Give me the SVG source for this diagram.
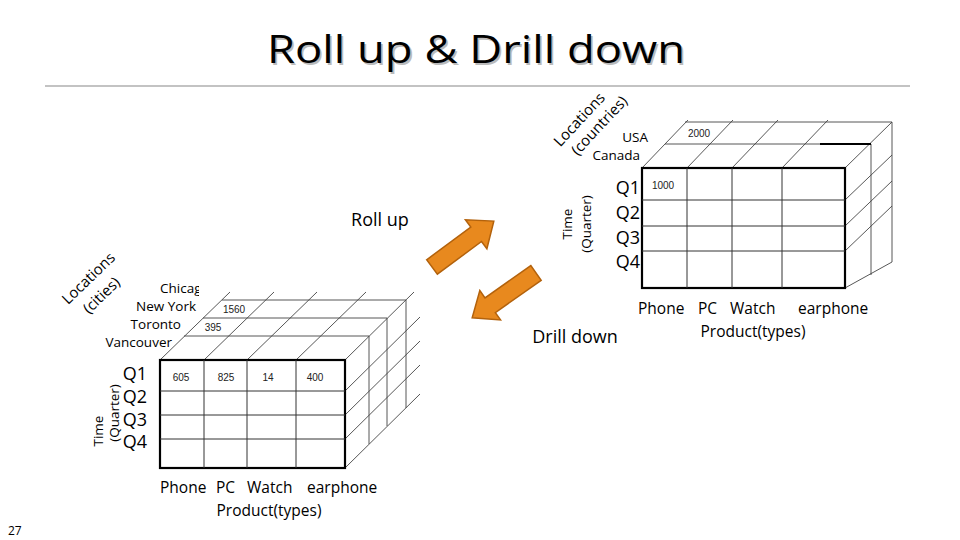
<svg xmlns="http://www.w3.org/2000/svg" width="960" height="540" viewBox="0 0 960 540">
<defs>
<style>
.t{font-family:"Open Sans","Noto Sans","Liberation Sans",sans-serif;fill:#000}
.lbl{font-size:13.5px}
.loc{font-size:15px}
.q{font-size:18px}
.num{font-size:10px;font-family:"Liberation Sans",Arial,sans-serif;fill:#222}
.prod{font-size:15.5px}
.front{fill:#fff;stroke:#000;stroke-width:2.2}
.grid{stroke:#333;stroke-width:1;fill:none}
.thin{stroke:#444;stroke-width:0.9;fill:none}
.arrow{fill:#E8891E;stroke:#B3620C;stroke-width:1.5;stroke-linejoin:miter}
</style>
<clipPath id="chi"><rect x="100" y="270" width="99" height="30"/></clipPath>
</defs>
<rect width="960" height="540" fill="#fff"/>

<g id="title">
<text x="476" y="63" text-anchor="middle" class="t" style="font-size:39px;fill:#bbb" transform="translate(1.8,1.8)" textLength="418" lengthAdjust="spacingAndGlyphs">Roll up &amp; Drill down</text>
<text x="476" y="63" text-anchor="middle" class="t" style="font-size:39px" textLength="418" lengthAdjust="spacingAndGlyphs">Roll up &amp; Drill down</text>
<line x1="45" y1="86" x2="910" y2="86" stroke="#888" stroke-width="1.2"/>
</g>

<g id="cube-cities">
<g class="thin">
<line x1="184" y1="336" x2="369" y2="336"/>
<line x1="203" y1="318" x2="387" y2="318"/>
<line x1="222" y1="300" x2="406" y2="300"/>
<line x1="160" y1="360" x2="230" y2="292"/>
<line x1="204" y1="360" x2="274" y2="292"/>
<line x1="247" y1="360" x2="317" y2="292"/>
<line x1="296" y1="360" x2="366" y2="292"/>
<line x1="345" y1="360" x2="414" y2="292"/>
<line x1="369" y1="336" x2="369" y2="444"/>
<line x1="387" y1="318" x2="387" y2="426"/>
<line x1="406" y1="300" x2="406" y2="408"/>
<line x1="345" y1="391" x2="420" y2="317"/>
<line x1="345" y1="415" x2="420" y2="341"/>
<line x1="345" y1="439" x2="420" y2="365"/>
<line x1="345" y1="468" x2="420" y2="394"/>
</g>
<rect class="front" x="160" y="360" width="185" height="108"/>
<g class="grid">
<line x1="204" y1="360" x2="204" y2="468"/>
<line x1="247" y1="360" x2="247" y2="468"/>
<line x1="296" y1="360" x2="296" y2="468"/>
<line x1="160" y1="391" x2="345" y2="391"/>
<line x1="160" y1="415" x2="345" y2="415"/>
<line x1="160" y1="439" x2="345" y2="439"/>
</g>
<text class="num" x="181" y="381" text-anchor="middle">605</text>
<text class="num" x="226" y="381" text-anchor="middle">825</text>
<text class="num" x="268" y="381" text-anchor="middle">14</text>
<text class="num" x="315" y="381" text-anchor="middle">400</text>
<text class="num" x="234" y="313" text-anchor="middle">1560</text>
<text class="num" x="213" y="331" text-anchor="middle">395</text>
<text class="t lbl" x="160" y="293" clip-path="url(#chi)">Chicag</text>
<text class="t lbl" x="196" y="311" text-anchor="end">New York</text>
<text class="t lbl" x="181" y="329" text-anchor="end">Toronto</text>
<text class="t lbl" x="172" y="347" text-anchor="end">Vancouver</text>
<text class="t loc" text-anchor="middle" transform="translate(92,282) rotate(-44)">Locations</text>
<text class="t loc" text-anchor="middle" transform="translate(105,299) rotate(-44)">(cities)</text>
<text class="t q" x="147" y="380" text-anchor="end">Q1</text>
<text class="t q" x="147" y="403" text-anchor="end">Q2</text>
<text class="t q" x="147" y="426" text-anchor="end">Q3</text>
<text class="t q" x="147" y="448" text-anchor="end">Q4</text>
<text class="t lbl" text-anchor="middle" transform="translate(103,431) rotate(-90)">Time</text>
<text class="t lbl" text-anchor="middle" transform="translate(119,413) rotate(-90)">(Quarter)</text>
<text class="t prod" y="493"><tspan x="160">Phone</tspan><tspan x="212"> PC</tspan><tspan x="243"> Watch</tspan><tspan x="303"> earphone</tspan></text>
<text class="t prod" x="269" y="516" text-anchor="middle">Product(types)</text>
</g>

<g id="cube-countries">
<g class="thin">
<line x1="665" y1="144" x2="871" y2="144"/>
<line x1="685" y1="122" x2="892" y2="122"/>
<line x1="642" y1="168" x2="688" y2="120"/>
<line x1="687" y1="168" x2="733" y2="120"/>
<line x1="732" y1="168" x2="778" y2="120"/>
<line x1="782" y1="168" x2="828" y2="120"/>
<line x1="845" y1="168" x2="892" y2="122"/>
<line x1="871" y1="144" x2="871" y2="275"/>
<line x1="892" y1="122" x2="892" y2="262"/>
<line x1="845" y1="200" x2="892" y2="155"/>
<line x1="845" y1="226" x2="892" y2="181"/>
<line x1="845" y1="251" x2="892" y2="206"/>
<line x1="845" y1="288" x2="892" y2="262"/>
</g>
<line x1="820" y1="144" x2="871" y2="144" stroke="#000" stroke-width="1.8"/>
<rect class="front" x="642" y="168" width="203" height="120"/>
<g class="grid">
<line x1="687" y1="168" x2="687" y2="288"/>
<line x1="732" y1="168" x2="732" y2="288"/>
<line x1="782" y1="168" x2="782" y2="288"/>
<line x1="642" y1="200" x2="845" y2="200"/>
<line x1="642" y1="226" x2="845" y2="226"/>
<line x1="642" y1="251" x2="845" y2="251"/>
</g>
<text class="num" x="699" y="137" text-anchor="middle">2000</text>
<text class="num" x="663" y="189" text-anchor="middle">1000</text>
<text class="t lbl" x="648" y="142" text-anchor="end">USA</text>
<text class="t lbl" x="640" y="160" text-anchor="end">Canada</text>
<text class="t loc" text-anchor="middle" transform="translate(583,123) rotate(-47)">Locations</text>
<text class="t loc" text-anchor="middle" transform="translate(603,129) rotate(-47)">(countries)</text>
<text class="t q" x="640" y="194" text-anchor="end">Q1</text>
<text class="t q" x="640" y="219" text-anchor="end">Q2</text>
<text class="t q" x="640" y="244" text-anchor="end">Q3</text>
<text class="t q" x="640" y="268" text-anchor="end">Q4</text>
<text class="t lbl" text-anchor="middle" transform="translate(572,224) rotate(-90)">Time</text>
<text class="t lbl" text-anchor="middle" transform="translate(591,224) rotate(-90)">(Quarter)</text>
<text class="t prod" y="314"><tspan x="638">Phone</tspan><tspan x="694"> PC</tspan><tspan x="726"> Watch</tspan><tspan x="794"> earphone</tspan></text>
<text class="t prod" x="753" y="337" text-anchor="middle">Product(types)</text>
</g>

<g id="connectors">
<g id="rollup">
<polygon class="arrow" transform="translate(432,267) rotate(-36.6)" points="0,-9 55,-9 55,-18 77,0 55,18 55,9 0,9"/>
<text class="t" x="380" y="226" text-anchor="middle" style="font-size:18px">Roll up</text>
</g>
<g id="drilldown">
<polygon class="arrow" transform="translate(536,273) rotate(144.9)" points="0,-9 56,-9 56,-18 78,0 56,18 56,9 0,9"/>
<text class="t" x="575" y="343" text-anchor="middle" style="font-size:18px">Drill down</text>
</g>
</g>

<text class="t" x="8" y="535" style="font-size:12px">27</text>
</svg>
